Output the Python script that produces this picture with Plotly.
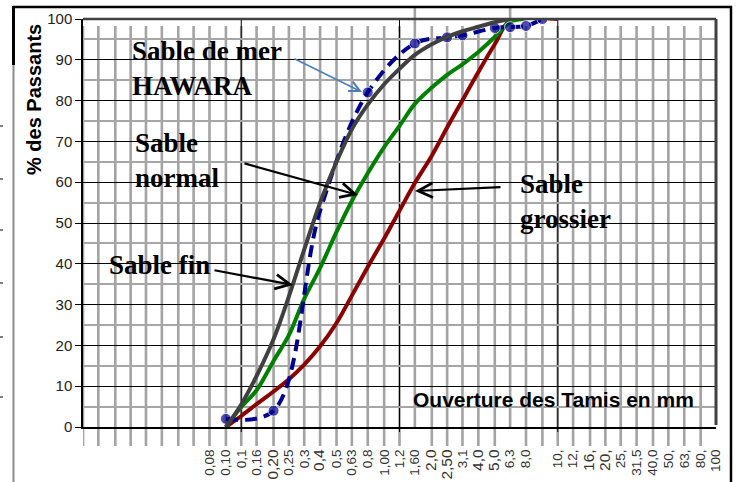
import math
import plotly.graph_objects as go

# ---------------- data ----------------
sieve_fin = [0.08, 0.1, 0.125, 0.16, 0.2, 0.25, 0.315, 0.4, 0.5, 0.63, 0.8, 1.0, 1.25, 1.6, 2.0, 2.5, 3.15, 4.0, 5.0]
pass_fin = [0, 5.5, 12.5, 21.5, 32, 43.5, 55, 65, 73, 79, 84, 87.8, 91.2, 93.8, 95.6, 97, 98.1, 99.2, 100]

sieve_normal = [0.08, 0.1, 0.125, 0.16, 0.2, 0.25, 0.315, 0.4, 0.5, 0.63, 0.8, 1.0, 1.25, 1.6, 2.0, 2.5, 3.15, 4.0, 5.0, 6.3]
pass_normal = [0, 4.9, 9, 16.2, 22.5, 31.4, 39, 47.8, 55.4, 62.2, 68.6, 73.8, 79.2, 83.2, 86.3, 88.9, 91.9, 95.6, 99.3, 100]

sieve_grossier = [0.08, 0.1, 0.125, 0.16, 0.2, 0.25, 0.315, 0.4, 0.5, 0.63, 0.8, 1.0, 1.25, 1.6, 2.0, 2.5, 3.15, 4.0, 5.0, 10]
pass_grossier = [0, 2.7, 5.6, 8.7, 11.7, 15.3, 19.8, 25.5, 32.2, 39.2, 46.2, 53, 59.8, 66.5, 73.4, 80.1, 87, 93.8, 99.5, 100]

sieve_hawara = [0.08, 0.16, 0.315, 0.63, 1.25, 2.0, 2.5, 4.0, 5.0, 6.3, 8.0]
pass_hawara = [2, 4, 53, 82, 94, 95.5, 96, 97.8, 98, 98.3, 100]

# x tick labels as typed on the original chart, and the sieve each one sits on
tick_labels = ["0,08", "0,10", "0,1", "0,16", "0,20", "0,25", "0,3", "0,4", "0,5", "0,63", "0,8",
               "1,00", "1,2", "1,60", "2,0", "2,50", "3,1", "4,0", "5,0", "6,3", "8,0",
               "10,", "12,", "16,", "20,", "25,", "31,5", "40,0", "50,", "63,", "80,", "100"]
tick_sieves = [0.063, 0.08, 0.1, 0.125, 0.16, 0.2, 0.25, 0.315, 0.4, 0.5, 0.63,
               0.8, 1.0, 1.25, 1.6, 2.0, 2.5, 3.15, 4.0, 5.0, 6.3,
               10, 12.5, 16, 20, 25, 31.5, 40, 50, 63, 80, 100]
big_labels = {"0,20", "0,4", "2,0", "2,50", "4,0", "5,0", "16,", "20,"}

# Renard R10 sieve series used for the grey sieve lines
r10 = [1, 1.25, 1.6, 2, 2.5, 3.15, 4, 5, 6.3, 8]
decades = [0.01, 0.1, 1, 10]
tall_sieves = [1.25, 5]
unmarked_hawara = [0.315]   # point drawn by the curve but without a marker

# ---------------- geometry helpers (pixel -> paper/axis) ----------------
W, H = 739, 482
L, R, T, B = 83, 23, 19, 55
PW, PH = W - L - R, H - T - B


def pxp(px):
    return (px - L) / PW


def pyp(py):
    return (H - B - py) / PH


def pxlog(px):
    return -2 + 4 * (px - L) / PW


def pyv(py):
    return 100 * (H - B - py) / PH


fig = go.Figure()

series = [
    (sieve_grossier, pass_grossier, "#8b0000", None, "Sable grossier"),
    (sieve_normal, pass_normal, "#008000", None, "Sable normal"),
    (sieve_hawara, pass_hawara, "#000090", "12px,7px", "Sable de mer HAWARA"),
    (sieve_fin, pass_fin, "#404040", None, "Sable fin"),
]
for xs, ys, col, dash, name in series:
    msize = [0 if x in unmarked_hawara else 11 for x in xs]
    fig.add_trace(go.Scatter(
        x=xs, y=ys, name=name,
        mode="lines+markers" if dash else "lines",
        line=dict(color=col, width=4, shape="spline", smoothing=1, dash=dash or "solid"),
        marker=dict(size=msize, color=col),
        hoverinfo="x+y+name",
    ))

shapes = []
# grey sieve lines
for d in decades:
    for m in r10:
        v = round(d * m, 5)
        if v in tall_sieves:
            y0, y1 = pyp(428), pyp(8)
        else:
            y0, y1 = pyp(446), pyp(26)
        shapes.append(dict(type="line", xref="x", yref="paper", x0=v, x1=v, y0=y0, y1=y1,
                           line=dict(color="#a3a3a3", width=2.6), layer="between"))
# black decade lines
for v in [0.1, 1, 10]:
    shapes.append(dict(type="line", xref="x", yref="paper", x0=v, x1=v, y0=pyp(432), y1=1,
                       line=dict(color="#000000", width=1), layer="between"))
# plot area border (top + right)
shapes.append(dict(type="line", xref="paper", yref="paper", x0=0, x1=1, y0=1, y1=1,
                   line=dict(color="#404040", width=2.5)))
shapes.append(dict(type="line", xref="paper", yref="paper", x0=pxp(716), x1=pxp(716), y0=pyp(425), y1=1,
                   line=dict(color="#404040", width=3)))
# outer chart frame
shapes.append(dict(type="line", xref="paper", yref="paper", x0=pxp(13), x1=pxp(732), y0=pyp(7), y1=pyp(7),
                   line=dict(color="#000000", width=2.5)))
shapes.append(dict(type="line", xref="paper", yref="paper", x0=pxp(731), x1=pxp(731), y0=pyp(6), y1=pyp(490),
                   line=dict(color="#000000", width=2.5)))
shapes.append(dict(type="line", xref="paper", yref="paper", x0=pxp(13.5), x1=pxp(13.5), y0=pyp(6), y1=pyp(65),
                   line=dict(color="#000000", width=3)))
shapes.append(dict(type="line", xref="paper", yref="paper", x0=pxp(13.5), x1=pxp(13.5), y0=pyp(65), y1=pyp(490),
                   line=dict(color="#8c8c8c", width=2)))
for py in [126, 179, 230, 283, 337, 397]:
    shapes.append(dict(type="line", xref="paper", yref="paper", x0=pxp(0), x1=pxp(3), y0=pyp(py), y1=pyp(py),
                       line=dict(color="#000000", width=1)))

ann = []
serif = "Liberation Serif, Times New Roman, serif"
sans = "Liberation Sans, Arial, sans-serif"
labels = [
    ("Sable de mer<br>HAWARA", 130, 68),
    ("Sable<br>normal", 133, 160),
    ("Sable fin", 107, 265),
    ("Sable<br>grossier", 518, 202),
]
for txt, px, py in labels:
    ann.append(dict(text="<b>" + txt.replace("<br>", "</b><br><b>") + "</b>", xref="paper", yref="paper",
                    x=pxp(px), y=pyp(py), xanchor="left",
                    yanchor="middle", align="left", showarrow=False,
                    font=dict(family=serif, size=27, color="#000000")))
ann.append(dict(text="<b>Ouverture des Tamis en mm</b>", xref="paper", yref="paper", x=pxp(553), y=pyp(399),
                xanchor="center", yanchor="middle", showarrow=False,
                font=dict(family=sans, size=21, color="#000000")))
ann.append(dict(text="<b>% des Passants</b>", xref="paper", yref="paper", x=pxp(34), y=pyp(100),
                xanchor="center", yanchor="middle", textangle=-90, showarrow=False,
                font=dict(family=sans, size=20, color="#000000")))
arrows = [
    ((293, 58), (362, 92), "#4a7ebb", 1.6),
    ((243, 163), (358, 195), "#000000", 2.2),
    ((213, 270), (293, 285), "#000000", 2.2),
    ((502, 187), (415, 191), "#000000", 2.2),
]
for (tx, ty), (hx, hy), col, w in arrows:
    ann.append(dict(text="", x=pxlog(hx), y=pyv(hy), xref="x", yref="y", ax=tx - hx, ay=ty - hy,
                    showarrow=True, arrowhead=5, arrowsize=1.3, arrowwidth=w, arrowcolor=col,
                    standoff=0, startstandoff=0))

ticktext = [f'<span style="font-size:15.5px">{t}</span>' if t in big_labels else t for t in tick_labels]

fig.update_layout(
    width=W, height=H, autosize=False,
    margin=dict(l=L, r=R, t=T, b=B, pad=0),
    paper_bgcolor="white", plot_bgcolor="white",
    showlegend=False,
    shapes=shapes, annotations=ann,
    xaxis=dict(type="log", range=[-2, 2], showgrid=False, zeroline=False, automargin=False,
               showline=True, linecolor="#000000", linewidth=2,
               ticks="", tickvals=tick_sieves, ticktext=ticktext, tickangle=-90,
               ticklabelstandoff=15,
               tickfont=dict(family=sans, size=13.5, color="#333333")),
    yaxis=dict(range=[0, 100], dtick=10, tick0=0, showgrid=True, gridcolor="#000000", gridwidth=1,
               zeroline=False, showline=True, linecolor="#000000", linewidth=1.5, automargin=False,
               ticks="outside", ticklen=6, tickcolor="#000000", tickwidth=1,
               tickfont=dict(family=sans, size=15, color="#222222"),
               minor=dict(dtick=5, showgrid=True, gridcolor="#a6a6a6", gridwidth=2)),
)

fig.write_html("out.html", config={"displayModeBar": False},
               post_script="document.body.style.margin='0px';document.body.style.padding='0px';")
